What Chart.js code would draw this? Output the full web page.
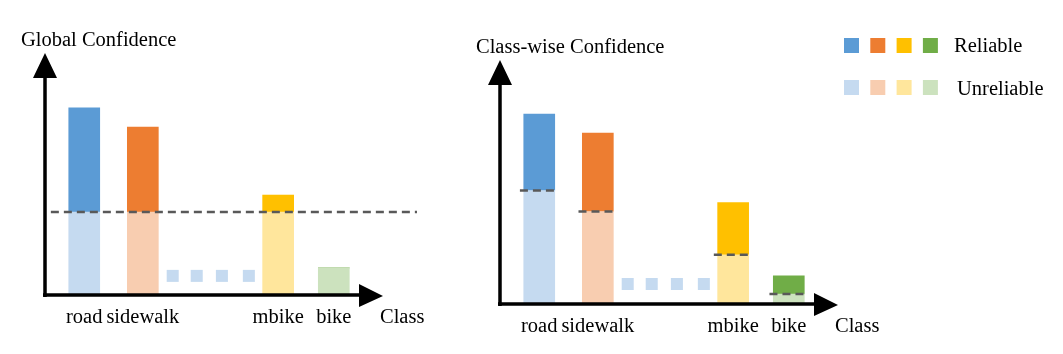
<!DOCTYPE html>
<html>
<head>
<meta charset="utf-8">
<script src="https://cdn.jsdelivr.net/npm/chart.js@4.4.0/dist/chart.umd.min.js"></script>
<style>
  html, body { margin: 0; padding: 0; background: #fff; }
  #wrap { position: relative; width: 1063px; height: 354px; overflow: hidden; }
  canvas { position: absolute; }
  #left { left: 0; top: 0; }
  #right { left: 455px; top: 7px; }
</style>
</head>
<body>
<div id="wrap">
  <canvas id="left" width="455" height="354"></canvas>
  <canvas id="right" width="608" height="347"></canvas>
</div>
<script>
// classes and where they sit along the class axis
const classes = ["road", "sidewalk", "mbike", "bike"];
const classPos = [1, 2, 4.31, 5.26];
const dotPos = [2.51, 2.92, 3.35, 3.81];

// left panel: one global threshold
const globalConf = [77.3, 69.4, 41.3, 11.2];
const globalThreshold = 34.3;
const globalDotLevel = 7.9;

// right panel: one threshold per class
const classConf = [77.8, 70.0, 41.6, 11.5];
const classThreshold = [46.5, 37.9, 20.2, 4.1];
const classDotLevel = 8.2;

const reliableColors = ["#5B9BD5", "#ED7D31", "#FFC000", "#70AD47"];
const unreliableColors = ["#C5DAF0", "#F8CDB0", "#FFE69C", "#CCE2BE"];
const legendLabels = ["Reliable", "Unreliable"];

const FONT = "20.5px 'Liberation Serif', 'Times New Roman', serif";
const DASH_COLOR = "#595959";

const sketchPlugin = {
  id: "sketch",
  afterDraw(chart, args, opts) {
    const { ctx, chartArea: a, scales } = chart;
    const L = a.left, R = a.right, T = a.top, B = a.bottom;
    ctx.save();
    ctx.fillStyle = "#000";
    ctx.strokeStyle = "#000";

    // axes with arrow heads
    ctx.lineWidth = 3.5;
    ctx.beginPath();
    ctx.moveTo(L, B + 2);
    ctx.lineTo(L, T + 20);
    ctx.moveTo(L - 2, B);
    ctx.lineTo(R - 20, B);
    ctx.stroke();
    ctx.beginPath();
    ctx.moveTo(L, T);
    ctx.lineTo(L - 12, T + 25);
    ctx.lineTo(L + 12, T + 25);
    ctx.closePath();
    ctx.moveTo(R, B + 1);
    ctx.lineTo(R - 24, B - 11);
    ctx.lineTo(R - 24, B + 12);
    ctx.closePath();
    ctx.fill();

    // texts
    ctx.font = FONT;
    ctx.textBaseline = "alphabetic";
    ctx.textAlign = "left";
    ctx.fillText(opts.title, L - 24, T - 7);
    ctx.fillText("Class", R - 3, B + 28);
    ctx.textAlign = "center";
    classes.forEach((c, i) => {
      ctx.fillText(c, scales.x.getPixelForValue(classPos[i]), B + 28);
    });

    if (opts.legend) {
      const rows = [reliableColors, unreliableColors];
      rows.forEach((colors, r) => {
        const y = r === 0 ? T - 22 : T + 20;
        colors.forEach((col, k) => {
          ctx.fillStyle = col;
          ctx.fillRect(R + 6 + k * 26.3, y, 15, 15);
        });
        ctx.fillStyle = "#000";
        ctx.textAlign = "left";
        ctx.fillText(legendLabels[r], R + 116 + r * 3, r === 0 ? T - 8 : T + 35);
      });
    }
    ctx.restore();
  }
};

function barData(conf, thr) {
  const t = (i) => (Array.isArray(thr) ? thr[i] : thr);
  return {
    low: conf.map((c, i) => ({ x: classPos[i], y: Math.min(c, t(i)) })),
    high: conf.map((c, i) => ({ x: classPos[i], y: Math.max(0, c - t(i)) }))
  };
}

function makeChart(id, conf, thr, dotLevel, thresholdLine, opts) {
  const bars = barData(conf, thr);
  return new Chart(document.getElementById(id), {
    type: "bar",
    data: {
      datasets: [
        {
          type: "line",
          data: thresholdLine,
          borderColor: DASH_COLOR,
          borderWidth: 2.5,
          borderDash: [8, 5],
          pointRadius: 0,
          spanGaps: false,
          clip: false,
          order: -1
        },
        {
          data: bars.low,
          backgroundColor: unreliableColors,
          stack: "conf",
          barThickness: 31
        },
        {
          data: bars.high,
          backgroundColor: reliableColors,
          stack: "conf",
          barThickness: 31
        },
        {
          type: "scatter",
          data: dotPos.map((x) => ({ x, y: dotLevel })),
          pointStyle: "rect",
          pointRadius: 8.5,
          pointBorderWidth: 0,
          backgroundColor: unreliableColors[0],
          borderColor: unreliableColors[0]
        }
      ]
    },
    options: {
      responsive: false,
      animation: false,
      events: [],
      layout: { padding: opts.padding },
      scales: {
        x: { type: "linear", min: 0.33, max: 6.1, offset: false, display: false },
        y: { min: 0, max: 100, display: false }
      },
      plugins: {
        legend: { display: false },
        tooltip: { enabled: false },
        sketch: opts
      }
    },
    plugins: [sketchPlugin]
  });
}

makeChart("left", globalConf, globalThreshold, globalDotLevel,
  [{ x: 0.43, y: globalThreshold }, { x: 6.68, y: globalThreshold }],
  { title: "Global Confidence", padding: { left: 45, top: 53, right: 72, bottom: 59 } });

const segs = [];
classPos.forEach((p, i) => {
  segs.push({ x: p - 0.33, y: classThreshold[i] });
  segs.push({ x: p + 0.33, y: classThreshold[i] });
  segs.push({ x: p + 0.4, y: null });
});
makeChart("right", classConf, classThreshold, classDotLevel, segs,
  { title: "Class-wise Confidence", legend: true, padding: { left: 45, top: 53, right: 225, bottom: 50 } });
</script>
</body>
</html>
